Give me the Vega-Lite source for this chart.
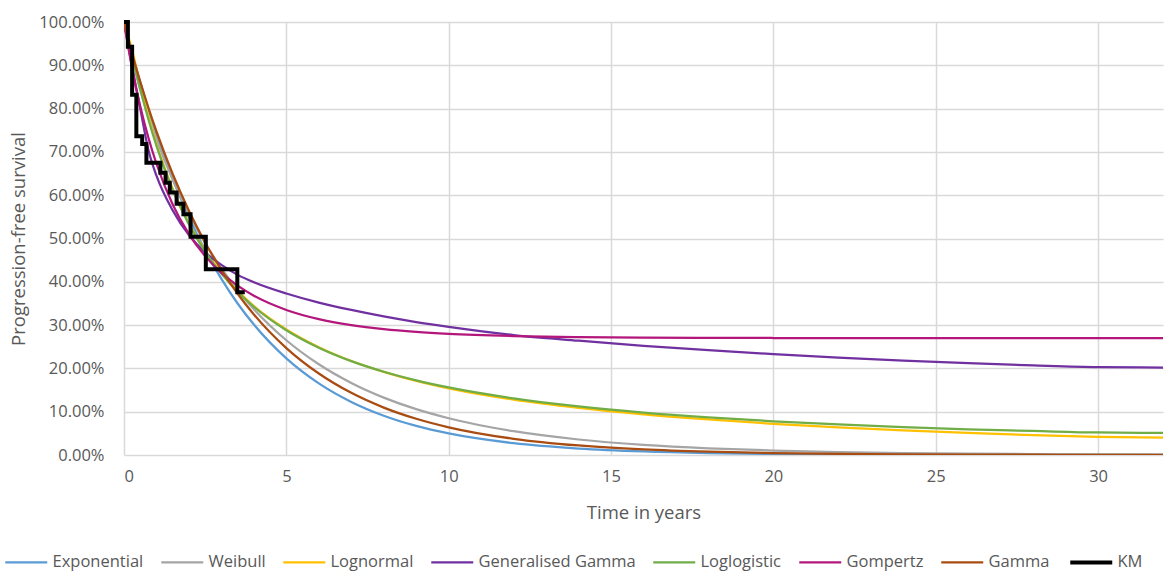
{
  "$schema": "https://vega.github.io/schema/vega-lite/v6.json",
  "width": 1039,
  "height": 433,
  "autosize": {"type": "none"},
  "padding": {"left": 124, "top": 22, "right": 9, "bottom": 117},
  "background": "white",
  "datasets": {
    "curves": [
      {"series":"Exponential","t":0,"v":100},{"series":"Exponential","t":0.25,"v":92.77},{"series":"Exponential","t":0.5,"v":86.07},{"series":"Exponential","t":0.75,"v":79.85},{"series":"Exponential","t":1,"v":74.08},{"series":"Exponential","t":1.5,"v":63.76},{"series":"Exponential","t":2,"v":54.88},{"series":"Exponential","t":2.5,"v":47.24},{"series":"Exponential","t":3,"v":40.66},{"series":"Exponential","t":3.5,"v":34.99},{"series":"Exponential","t":4,"v":30.12},{"series":"Exponential","t":5,"v":22.31},{"series":"Exponential","t":6,"v":16.53},{"series":"Exponential","t":7,"v":12.25},{"series":"Exponential","t":8,"v":9.07},{"series":"Exponential","t":9,"v":6.72},{"series":"Exponential","t":10,"v":4.98},{"series":"Exponential","t":12,"v":2.73},{"series":"Exponential","t":14,"v":1.5},{"series":"Exponential","t":16,"v":0.82},{"series":"Exponential","t":18,"v":0.45},{"series":"Exponential","t":20,"v":0.25},{"series":"Exponential","t":22,"v":0.14},{"series":"Exponential","t":24,"v":0.07},{"series":"Exponential","t":26,"v":0.04},{"series":"Exponential","t":28,"v":0.02},{"series":"Exponential","t":30,"v":0.01},{"series":"Exponential","t":32,"v":0.01},
      {"series":"Weibull","t":0,"v":100},{"series":"Weibull","t":0.25,"v":91.26},{"series":"Weibull","t":0.5,"v":84.37},{"series":"Weibull","t":0.75,"v":78.35},{"series":"Weibull","t":1,"v":72.94},{"series":"Weibull","t":1.5,"v":63.56},{"series":"Weibull","t":2,"v":55.66},{"series":"Weibull","t":2.5,"v":48.91},{"series":"Weibull","t":3,"v":43.1},{"series":"Weibull","t":3.5,"v":38.06},{"series":"Weibull","t":4,"v":33.68},{"series":"Weibull","t":5,"v":26.5},{"series":"Weibull","t":6,"v":20.95},{"series":"Weibull","t":7,"v":16.64},{"series":"Weibull","t":8,"v":13.26},{"series":"Weibull","t":9,"v":10.59},{"series":"Weibull","t":10,"v":8.49},{"series":"Weibull","t":12,"v":5.49},{"series":"Weibull","t":14,"v":3.58},{"series":"Weibull","t":16,"v":2.35},{"series":"Weibull","t":18,"v":1.55},{"series":"Weibull","t":20,"v":1.03},{"series":"Weibull","t":22,"v":0.68},{"series":"Weibull","t":24,"v":0.46},{"series":"Weibull","t":26,"v":0.31},{"series":"Weibull","t":28,"v":0.21},{"series":"Weibull","t":30,"v":0.14},{"series":"Weibull","t":32,"v":0.09},
      {"series":"Lognormal","t":0,"v":100},{"series":"Lognormal","t":0.25,"v":93.5},{"series":"Lognormal","t":0.5,"v":85.5},{"series":"Lognormal","t":0.75,"v":78.2},{"series":"Lognormal","t":1,"v":71.8},{"series":"Lognormal","t":1.5,"v":61.5},{"series":"Lognormal","t":2,"v":53.5},{"series":"Lognormal","t":2.5,"v":47.2},{"series":"Lognormal","t":3,"v":42.1},{"series":"Lognormal","t":3.5,"v":37.9},{"series":"Lognormal","t":4,"v":34.4},{"series":"Lognormal","t":5,"v":29.0},{"series":"Lognormal","t":6,"v":24.9},{"series":"Lognormal","t":7,"v":21.7},{"series":"Lognormal","t":8,"v":19.2},{"series":"Lognormal","t":9,"v":17.1},{"series":"Lognormal","t":10,"v":15.4},{"series":"Lognormal","t":12,"v":12.8},{"series":"Lognormal","t":14,"v":10.9},{"series":"Lognormal","t":16,"v":9.4},{"series":"Lognormal","t":18,"v":8.2},{"series":"Lognormal","t":20,"v":7.2},{"series":"Lognormal","t":22,"v":6.4},{"series":"Lognormal","t":24,"v":5.7},{"series":"Lognormal","t":26,"v":5.1},{"series":"Lognormal","t":28,"v":4.6},{"series":"Lognormal","t":30,"v":4.2},{"series":"Lognormal","t":32,"v":4.0},
      {"series":"Generalised Gamma","t":0,"v":100},{"series":"Generalised Gamma","t":0.25,"v":89.5},{"series":"Generalised Gamma","t":0.5,"v":80.0},{"series":"Generalised Gamma","t":0.75,"v":70.5},{"series":"Generalised Gamma","t":1,"v":64.5},{"series":"Generalised Gamma","t":1.5,"v":56.5},{"series":"Generalised Gamma","t":2,"v":50.8},{"series":"Generalised Gamma","t":2.5,"v":46.8},{"series":"Generalised Gamma","t":3,"v":43.9},{"series":"Generalised Gamma","t":3.5,"v":41.6},{"series":"Generalised Gamma","t":4,"v":39.9},{"series":"Generalised Gamma","t":5,"v":37.3},{"series":"Generalised Gamma","t":6,"v":35.2},{"series":"Generalised Gamma","t":7,"v":33.5},{"series":"Generalised Gamma","t":8,"v":32.0},{"series":"Generalised Gamma","t":9,"v":30.7},{"series":"Generalised Gamma","t":10,"v":29.6},{"series":"Generalised Gamma","t":12,"v":27.7},{"series":"Generalised Gamma","t":14,"v":26.4},{"series":"Generalised Gamma","t":16,"v":25.2},{"series":"Generalised Gamma","t":18,"v":24.2},{"series":"Generalised Gamma","t":20,"v":23.3},{"series":"Generalised Gamma","t":22,"v":22.5},{"series":"Generalised Gamma","t":24,"v":21.8},{"series":"Generalised Gamma","t":26,"v":21.2},{"series":"Generalised Gamma","t":28,"v":20.7},{"series":"Generalised Gamma","t":30,"v":20.3},{"series":"Generalised Gamma","t":32,"v":20.2},
      {"series":"Loglogistic","t":0,"v":100},{"series":"Loglogistic","t":0.25,"v":92.28},{"series":"Loglogistic","t":0.5,"v":84.52},{"series":"Loglogistic","t":0.75,"v":77.54},{"series":"Loglogistic","t":1,"v":71.38},{"series":"Loglogistic","t":1.5,"v":61.2},{"series":"Loglogistic","t":2,"v":53.26},{"series":"Loglogistic","t":2.5,"v":46.97},{"series":"Loglogistic","t":3,"v":41.88},{"series":"Loglogistic","t":3.5,"v":37.71},{"series":"Loglogistic","t":4,"v":34.24},{"series":"Loglogistic","t":5,"v":28.81},{"series":"Loglogistic","t":6,"v":24.77},{"series":"Loglogistic","t":7,"v":21.67},{"series":"Loglogistic","t":8,"v":19.22},{"series":"Loglogistic","t":9,"v":17.24},{"series":"Loglogistic","t":10,"v":15.6},{"series":"Loglogistic","t":12,"v":13.08},{"series":"Loglogistic","t":14,"v":11.22},{"series":"Loglogistic","t":16,"v":9.8},{"series":"Loglogistic","t":18,"v":8.69},{"series":"Loglogistic","t":20,"v":7.79},{"series":"Loglogistic","t":22,"v":7.05},{"series":"Loglogistic","t":24,"v":6.43},{"series":"Loglogistic","t":26,"v":5.91},{"series":"Loglogistic","t":28,"v":5.55},{"series":"Loglogistic","t":30,"v":5.2},{"series":"Loglogistic","t":32,"v":5.1},
      {"series":"Gompertz","t":0,"v":100},{"series":"Gompertz","t":0.25,"v":89.32},{"series":"Gompertz","t":0.5,"v":80.55},{"series":"Gompertz","t":0.75,"v":73.31},{"series":"Gompertz","t":1,"v":67.26},{"series":"Gompertz","t":1.5,"v":57.85},{"series":"Gompertz","t":2,"v":51.01},{"series":"Gompertz","t":2.5,"v":45.93},{"series":"Gompertz","t":3,"v":42.07},{"series":"Gompertz","t":3.5,"v":39.11},{"series":"Gompertz","t":4,"v":36.78},{"series":"Gompertz","t":5,"v":33.5},{"series":"Gompertz","t":6,"v":31.38},{"series":"Gompertz","t":7,"v":29.99},{"series":"Gompertz","t":8,"v":29.05},{"series":"Gompertz","t":9,"v":28.42},{"series":"Gompertz","t":10,"v":27.98},{"series":"Gompertz","t":12,"v":27.48},{"series":"Gompertz","t":14,"v":27.24},{"series":"Gompertz","t":16,"v":27.12},{"series":"Gompertz","t":18,"v":27.06},{"series":"Gompertz","t":20,"v":27.02},{"series":"Gompertz","t":22,"v":27.0},{"series":"Gompertz","t":24,"v":27.0},{"series":"Gompertz","t":26,"v":27.0},{"series":"Gompertz","t":28,"v":27.0},{"series":"Gompertz","t":30,"v":27.0},{"series":"Gompertz","t":32,"v":27.0},
      {"series":"Gamma","t":0,"v":100},{"series":"Gamma","t":0.25,"v":92.74},{"series":"Gamma","t":0.5,"v":86.23},{"series":"Gamma","t":0.75,"v":80.25},{"series":"Gamma","t":1,"v":74.73},{"series":"Gamma","t":1.5,"v":64.9},{"series":"Gamma","t":2,"v":56.42},{"series":"Gamma","t":2.5,"v":49.09},{"series":"Gamma","t":3,"v":42.74},{"series":"Gamma","t":3.5,"v":37.24},{"series":"Gamma","t":4,"v":32.46},{"series":"Gamma","t":5,"v":24.69},{"series":"Gamma","t":6,"v":18.82},{"series":"Gamma","t":7,"v":14.35},{"series":"Gamma","t":8,"v":10.95},{"series":"Gamma","t":9,"v":8.37},{"series":"Gamma","t":10,"v":6.4},{"series":"Gamma","t":12,"v":3.75},{"series":"Gamma","t":14,"v":2.2},{"series":"Gamma","t":16,"v":1.29},{"series":"Gamma","t":18,"v":0.76},{"series":"Gamma","t":20,"v":0.45},{"series":"Gamma","t":22,"v":0.27},{"series":"Gamma","t":24,"v":0.16},{"series":"Gamma","t":26,"v":0.09},{"series":"Gamma","t":28,"v":0.06},{"series":"Gamma","t":30,"v":0.03},{"series":"Gamma","t":32,"v":0.02}
    ],
    "km": [
      {"series":"KM","t":0,"v":100},{"series":"KM","t":0.12,"v":94.3},{"series":"KM","t":0.25,"v":83.2},{"series":"KM","t":0.38,"v":73.6},{"series":"KM","t":0.56,"v":71.8},{"series":"KM","t":0.69,"v":67.5},{"series":"KM","t":1.12,"v":65.2},{"series":"KM","t":1.28,"v":62.9},{"series":"KM","t":1.41,"v":60.6},{"series":"KM","t":1.62,"v":58.0},{"series":"KM","t":1.83,"v":55.6},{"series":"KM","t":2.05,"v":50.4},{"series":"KM","t":2.52,"v":42.9},{"series":"KM","t":3.49,"v":37.6},{"series":"KM","t":3.72,"v":37.6}
    ]
  },
  "encoding": {
    "x": {
      "field": "t", "type": "quantitative",
      "scale": {"domain": [0, 32], "nice": false, "zero": false},
      "axis": {"values": [0,5,10,15,20,25,30], "title": "Time in years", "format": "d"}
    },
    "y": {
      "field": "v", "type": "quantitative",
      "scale": {"domain": [0, 100], "nice": false},
      "axis": {"values": [0,10,20,30,40,50,60,70,80,90,100], "title": "Progression-free survival", "labelExpr": "format(datum.value, '.2f') + '%'"}
    },
    "color": {
      "field": "series", "type": "nominal",
      "scale": {
        "domain": ["Exponential","Weibull","Lognormal","Generalised Gamma","Loglogistic","Gompertz","Gamma","KM"],
        "range": ["#5B9BD5","#A5A5A5","#FFC000","#7030A0","#70AD47","#B3177B","#A84C12","#000000"]
      },
      "legend": {
        "title": null,
        "orient": "none",
        "legendX": -106,
        "legendY": 532,
        "direction": "horizontal",
        "columns": 8,
        "symbolType": "stroke",
        "symbolSize": 1764,
        "symbolStrokeWidth": 2.25,
        "labelFontSize": 16.5,
        "labelFont": "Open Sans",
        "labelColor": "#595959",
        "labelOffset": 18,
        "columnPadding": 12,
        "encode": {"symbols": {"update": {"strokeWidth": {"signal": "datum.value === 'KM' ? 4 : 2.25"}}}}
      }
    }
  },
  "layer": [
    {
      "data": {"name": "curves"},
      "mark": {"type": "line", "interpolate": "monotone", "strokeWidth": 2.25, "clip": true}
    },
    {
      "data": {"name": "km"},
      "mark": {"type": "line", "interpolate": "step-after", "strokeWidth": 4, "strokeJoin": "miter"}
    }
  ],
  "config": {
    "view": {"stroke": null},
    "axis": {
      "domain": false,
      "ticks": false,
      "tickSize": 0,
      "grid": true,
      "gridColor": "#D9D9D9",
      "gridWidth": 1.5,
      "labelFont": "Open Sans",
      "labelFontSize": 16.5,
      "labelColor": "#595959",
      "titleFont": "Open Sans",
      "titleFontSize": 18.5,
      "titleFontWeight": "normal",
      "titleColor": "#595959"
    },
    "axisX": {"labelPadding": 13, "titlePadding": 19},
    "axisY": {"labelPadding": 20, "titlePadding": 10}
  }
}
